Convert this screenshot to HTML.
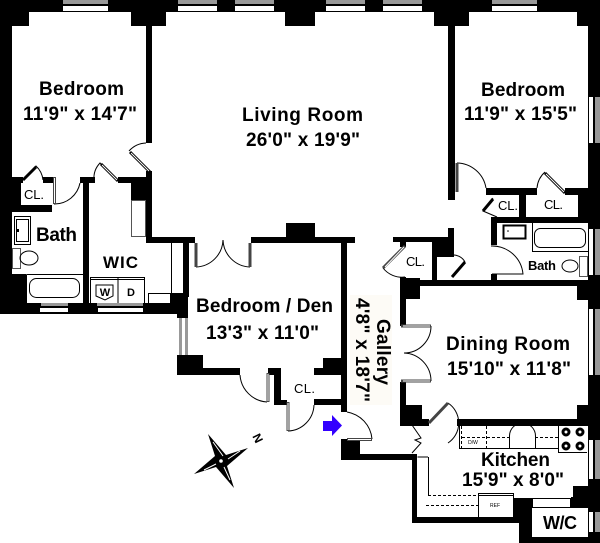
<!DOCTYPE html>
<html><head><meta charset="utf-8"><style>
html,body{margin:0;padding:0;background:#fff}
svg{display:block}
text{font-family:"Liberation Sans",sans-serif;font-weight:bold;fill:#000}
.c{font-weight:normal;font-size:13px}
</style></head><body>
<svg width="600" height="543" viewBox="0 0 600 543" xmlns="http://www.w3.org/2000/svg">
<rect width="600" height="543" fill="#fff"/>
<rect x="350" y="295" width="42" height="110" fill="#fdfbf6"/>
<g fill="#000">
<!-- top band -->
<rect x="0" y="0" width="600" height="12"/>
<rect x="0" y="12" width="29" height="14"/><rect x="131" y="12" width="35" height="14"/>
<rect x="285" y="12" width="30" height="14"/><rect x="434" y="12" width="35" height="14"/>
<rect x="577" y="12" width="23" height="14"/>
<!-- outer left / right -->
<rect x="0" y="0" width="12" height="314"/>
<rect x="588" y="0" width="12" height="537"/>
<!-- interior verticals -->
<rect x="146" y="26" width="6" height="117"/>
<rect x="146" y="171" width="6" height="12"/>
<rect x="448" y="26" width="7" height="174"/>
<rect x="448" y="228" width="6" height="29"/>
<rect x="432" y="242" width="22" height="15"/>
<!-- left lower -->
<rect x="12" y="177" width="11" height="6"/><rect x="43" y="177" width="12" height="6"/>
<rect x="12" y="177" width="9" height="35"/><rect x="12" y="205" width="40" height="7"/>
<rect x="80" y="177" width="15" height="6"/><rect x="83" y="177" width="6" height="126"/>
<rect x="118" y="177" width="34" height="6"/><rect x="131" y="183" width="21" height="17"/>
<rect x="146" y="200" width="6" height="43"/><rect x="146" y="237" width="49" height="6"/>
<rect x="12" y="274" width="14" height="30"/>
<rect x="0" y="303" width="177" height="11"/>
<rect x="170" y="293" width="18" height="21"/><rect x="183" y="237" width="6" height="60"/>
<rect x="177" y="314" width="11" height="4"/>
<rect x="177" y="355" width="26" height="20"/><rect x="203" y="368" width="37" height="7"/>
<!-- den -->
<rect x="251" y="237" width="104" height="6"/><rect x="286" y="223" width="29" height="14"/>
<rect x="341" y="237" width="6" height="175"/>
<rect x="323" y="358" width="18" height="10"/><rect x="314" y="368" width="27" height="7"/>
<rect x="268" y="368" width="12" height="7"/><rect x="274" y="368" width="7" height="37"/>
<rect x="274" y="400" width="13" height="5"/><rect x="314" y="399" width="33" height="6"/>
<!-- gallery bottom -->
<rect x="341" y="439" width="19" height="21"/><rect x="341" y="454" width="76" height="6"/>
<rect x="412" y="454" width="5" height="69"/><rect x="412" y="517" width="107" height="6"/>
<rect x="513" y="498" width="19" height="45"/><rect x="519" y="537" width="81" height="6"/>
<rect x="513" y="523" width="6" height="20" fill="#fff"/>
<!-- closet & dining -->
<rect x="393" y="237" width="55" height="5"/><rect x="400" y="242" width="6" height="5"/>
<rect x="432" y="242" width="5" height="44"/>
<rect x="400" y="277" width="6" height="9"/>
<rect x="400" y="280" width="200" height="6"/>
<rect x="400" y="278" width="6" height="48"/><rect x="400" y="278" width="20" height="21"/>
<rect x="400" y="382" width="6" height="44"/>
<rect x="400" y="405" width="22" height="21"/><rect x="400" y="419" width="29" height="7"/>
<rect x="457" y="419" width="131" height="7"/><rect x="577" y="405" width="11" height="21"/>
<rect x="577" y="286" width="11" height="14"/>
<!-- right bath -->
<rect x="486" y="188" width="51" height="7"/><rect x="565" y="188" width="23" height="7"/>
<rect x="491" y="217" width="97" height="6"/><rect x="491" y="217" width="6" height="28"/>
<rect x="519" y="195" width="7" height="24"/><rect x="578" y="195" width="10" height="24"/>
<rect x="491" y="274" width="6" height="6"/>
<!-- kitchen right pillar -->
<rect x="573" y="486" width="16" height="12"/><rect x="571" y="497" width="18" height="11"/>
</g>
<!-- sill lines -->
<g fill="#fff" stroke="#555" stroke-width="1">
<rect x="131.5" y="200.5" width="14" height="36"/>
<rect x="148.5" y="293.5" width="22" height="10" stroke="#000"/>
<rect x="532.5" y="498.5" width="38" height="9" stroke="#000"/>
</g>
<!-- windows -->
<g id="w">
<g fill="#999"><rect x="63" y="0" width="45" height="4"/><rect x="178" y="0" width="39" height="4"/><rect x="235" y="0" width="39" height="4"/><rect x="326" y="0" width="39" height="4"/><rect x="383" y="0" width="39" height="4"/><rect x="492" y="0" width="45" height="4"/>
<rect x="41" y="303" width="27" height="3"/><rect x="97" y="303" width="46" height="3"/>
<rect x="179" y="318" width="9" height="37"/>
<rect x="595" y="97" width="5" height="46"/><rect x="595" y="229" width="5" height="46"/><rect x="595" y="309" width="5" height="66"/><rect x="595" y="440" width="5" height="39"/><rect x="595" y="512" width="5" height="20"/></g>
<g fill="#fff"><rect x="63" y="6" width="45" height="5"/><rect x="178" y="6" width="39" height="5"/><rect x="235" y="6" width="39" height="5"/><rect x="326" y="6" width="39" height="5"/><rect x="383" y="6" width="39" height="5"/><rect x="492" y="6" width="45" height="5"/>
<rect x="40" y="308" width="28" height="4"/><rect x="98" y="308" width="45" height="4"/>
<rect x="182" y="318" width="3" height="37"/>
<rect x="589" y="97" width="4" height="46"/><rect x="589" y="229" width="4" height="46"/><rect x="589" y="309" width="4" height="66"/><rect x="589" y="440" width="4" height="39"/><rect x="589" y="512" width="4" height="20"/></g>
</g>
<!-- W/C room outline -->
<rect x="532" y="508" width="56" height="29" fill="#fff"/>
<!-- doors -->
<g fill="none" stroke="#000" stroke-width="1">
<path d="M23 180L36 166A22 22 0 0 1 43 180"/>
<path d="M54 204A26 26 0 0 0 80 183"/>
<path d="M118 180L100 163A22 22 0 0 0 94 180"/>
<path d="M129 151A24 24 0 0 1 146 143"/>
<path d="M196 267A28 28 0 0 0 223 240A28 28 0 0 0 250 267"/>
<path d="M240 375A29 29 0 0 0 267 402"/>
<path d="M288 431A27 27 0 0 0 314 405"/>
<path d="M347 412A30 30 0 0 1 372 439"/>
<path d="M457 163A30 30 0 0 1 486 188"/>
<path d="M491 246A31 31 0 0 1 523 274L492 274"/>
<path d="M493 198L483 211L497 217"/>
<path d="M537 188A24 24 0 0 1 545 172"/>
<path d="M451 255A14 14 0 0 1 465 262"/>
<path d="M383 268A24 24 0 0 0 405 277"/>
<path d="M431 326A27 27 0 0 1 404 353A28 28 0 0 1 431 381"/>
<path d="M448 403A24 24 0 0 1 448 443"/>
<path d="M412 425L421 438L415 440L421 443L412 453"/>
</g>
<g fill="none" stroke="#000" stroke-width="3">
<path d="M23 180L36 167"/><path d="M101 164L118 181"/><path d="M130 152L150 172"/>
<path d="M545 173L565 193"/><path d="M452 277L465 262"/><path d="M483 211L493 199"/>
</g>
<g fill="none" stroke="#fff" stroke-width="1">
<path d="M102 165L117 180"/><path d="M131 153L149 171"/><path d="M546 174L564 192"/>
</g>
<g fill="none" stroke="#444" stroke-width="3">
<path d="M54.500 177V204"/><path d="M196 243V267"/><path d="M250 243V267"/>
<path d="M268 373V402"/><path d="M288 402V431"/><path d="M347 439.500H372"/>
<path d="M457 163V192"/><path d="M405 246L383 268"/><path d="M429 423L448 403"/>
<path d="M401 326H431"/><path d="M401 381H431"/>
</g>
<g fill="none" stroke="#fff" stroke-width="1">
<path d="M54.500 178V203"/><path d="M268 374V401"/><path d="M288 403V430"/><path d="M348 439.500H371"/>
<path d="M403 326H430"/><path d="M403 381H430"/><path d="M404 247L385 267"/>
</g>
<!-- fixtures -->
<g fill="none" stroke="#000" stroke-width="1">
<rect x="14.500" y="216.500" width="16" height="28"/><rect x="16.500" y="219.500" width="12" height="22"/>
<rect x="12.500" y="248.500" width="8" height="20" stroke="#555"/>
<ellipse cx="29" cy="258" rx="9" ry="7"/>
<path d="M26.500 274.500H83M26.500 303V274.500"/><rect x="29.500" y="278.500" width="50" height="19" rx="7"/>
<path d="M90.500 303V277.500H144.500V303M118 277.500V303M90.500 279.500H144.500"/>
<path d="M96 285H113V296L105 300L96 296Z"/>
<path d="M171.500 243V293"/>
<path d="M532.500 223V251.500H588"/><rect x="534.500" y="228.500" width="51" height="19" rx="6"/>
<rect x="503.500" y="225.500" width="22" height="13" stroke-width="2"/>
<rect x="579.500" y="256.500" width="8" height="20" stroke="#555"/>
<ellipse cx="570" cy="266" rx="8" ry="6"/>
<path d="M459.500 426V448.500H558M558.500 426V452.500H587M509.500 448V436A13 13 0 0 1 535.500 436V448"/>
<path d="M428.500 457V495"/>
<rect x="478.500" y="493.500" width="35" height="24"/><path d="M478 495.500H513"/>
<path d="M417.500 457H428"/>
</g>
<g fill="none" stroke="#000" stroke-width="1" stroke-dasharray="3 2">
<path d="M461.500 426V448M486.500 426V448M462 437.500H509M535 437.500H558"/>
<path d="M428 495.500H478M426 505.500H478"/>
</g>
<g fill="none" stroke="#000" stroke-width="3">
<circle cx="566" cy="432" r="3"/><circle cx="580" cy="432" r="3"/><circle cx="566" cy="446" r="3"/><circle cx="580" cy="446" r="3"/>
</g>
<circle cx="508" cy="231" r="0.800"/>
<rect x="17" y="229" width="2" height="3"/>
<!-- arrow -->
<path d="M323 421H332V415L342 425.500L332 436V431H323Z" fill="#3300ff"/>
<!-- compass -->
<path d="M208 434L226 455L248 448L227 466L234 488L216 467L194 474L215 456Z" fill="#000"/>
<g stroke="#fff" stroke-width="1" fill="none"><path d="M213 442L223 456"/><path d="M240 451L228 459"/><path d="M230 480L224 467"/><path d="M204 470L216 464"/></g>
<circle cx="221" cy="461" r="1.800" fill="#fff"/>
<text font-size="12" text-anchor="middle" transform="translate(254,440) rotate(64)">N</text>
<!-- labels -->
<g font-size="19">
<text x="39" y="95" textLength="85">Bedroom</text>
<text x="23" y="120" textLength="114">11'9" x 14'7"</text>
<text x="481" y="96" textLength="84">Bedroom</text>
<text x="464" y="120" textLength="113">11'9" x 15'5"</text>
<text x="242" y="121" textLength="121">Living Room</text>
<text x="246" y="146" textLength="114">26'0" x 19'9"</text>
<text x="36" y="241" textLength="41">Bath</text>
<text x="103" y="268" textLength="35" font-size="17">WIC</text>
<text x="196" y="312" textLength="137">Bedroom / Den</text>
<text x="206" y="339" textLength="113">13'3" x 11'0"</text>
<text x="446" y="350" textLength="124">Dining Room</text>
<text x="447" y="375" textLength="124">15'10" x 11'8"</text>
<text x="481" y="466" textLength="69">Kitchen</text>
<text x="462" y="486" textLength="102">15'9" x 8'0"</text>
<text x="543" y="529" font-size="18" textLength="34">W/C</text>
<text transform="translate(377,319) rotate(90)" textLength="66">Gallery</text>
<text transform="translate(356,298) rotate(90)" textLength="104">4'8" x 18'7"</text>
</g>
<text x="528" y="270" font-size="13" textLength="28">Bath</text>
<text class="c" x="24" y="199" textLength="20">CL.</text>
<text class="c" x="294" y="393" textLength="21">CL.</text>
<text class="c" x="406" y="266" textLength="19">CL.</text>
<text class="c" x="498" y="210" textLength="20">CL.</text>
<text class="c" x="544" y="209" textLength="19">CL.</text>
<text x="105" y="296" font-size="11" text-anchor="middle">W</text>
<text x="131" y="296" font-size="11" text-anchor="middle">D</text>
<text x="473" y="444" font-size="5" text-anchor="middle" style="font-weight:normal">D/W</text>
<text x="495" y="507" font-size="5" text-anchor="middle" style="font-weight:normal">REF</text>
</svg>
</body></html>
